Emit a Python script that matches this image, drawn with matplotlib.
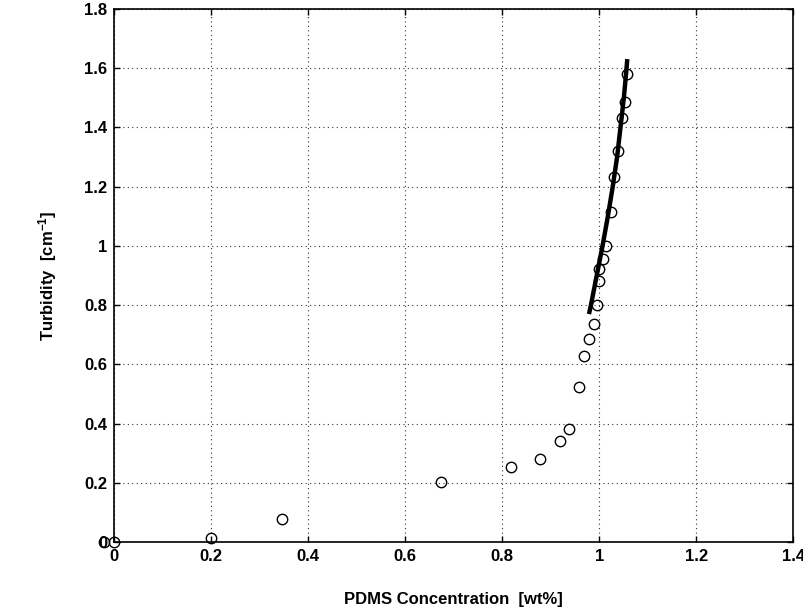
import matplotlib.pyplot as plt
from matplotlib.ticker import FuncFormatter

plt.rcParams['font.family'] = ['Liberation Sans', 'DejaVu Sans']
plt.rcParams['font.weight'] = 'bold'
plt.rcParams['mathtext.fontset'] = 'custom'
plt.rcParams['mathtext.rm'] = 'Liberation Sans:bold'
plt.rcParams['mathtext.bf'] = 'Liberation Sans:bold'
plt.rcParams['mathtext.default'] = 'bf'

# measured turbidity points
conc = [-0.02, 0.0, 0.20, 0.347, 0.673, 0.818, 0.879, 0.919, 0.938, 0.959,
        0.968, 0.979, 0.989, 0.996, 0.999, 1.000, 1.007, 1.015, 1.024,
        1.030, 1.0386, 1.047, 1.054, 1.0565]
turb = [0.0, 0.0, 0.015, 0.078, 0.205, 0.253, 0.280, 0.342, 0.382, 0.523,
        0.630, 0.686, 0.737, 0.799, 0.883, 0.923, 0.957, 1.000, 1.116,
        1.234, 1.3215, 1.433, 1.485, 1.579]

# fitted curve
fit_x = [0.979, 0.983, 0.995, 1.007, 1.018, 1.028, 1.037, 1.044, 1.051, 1.0565, 1.058]
fit_y = [0.77, 0.80, 0.90, 1.00, 1.10, 1.20, 1.30, 1.40, 1.50, 1.60, 1.63]

xticks = [0, 0.2, 0.4, 0.6, 0.8, 1.0, 1.2, 1.4]
yticks = [0, 0.2, 0.4, 0.6, 0.8, 1.0, 1.2, 1.4, 1.6, 1.8]

fig = plt.figure(figsize=(8.04, 6.13), dpi=100)
ax = fig.add_axes([0.142, 0.1152, 0.8445, 0.8706])

ax.plot(conc, turb, 'o', mfc='none', mec='black', ms=7.5, mew=1.0, clip_on=False, zorder=3)
ax.plot(fit_x, fit_y, '-', color='black', lw=3.2, solid_capstyle='butt', zorder=4)

ax.set_xlim(0, 1.4)
ax.set_ylim(0, 1.8)
ax.set_xticks(xticks)
ax.set_yticks(yticks)
fmt = FuncFormatter(lambda v, p: '%g' % round(v, 2))
ax.xaxis.set_major_formatter(fmt)
ax.yaxis.set_major_formatter(fmt)
ax.tick_params(direction='in', length=4, width=1, labelsize=12, top=True, right=True, pad=5)
for lab in ax.get_xticklabels() + ax.get_yticklabels():
    lab.set_fontweight('bold')

ax.grid(True, linestyle=(0, (1, 3)), color='#333333', linewidth=0.8)
for s in ax.spines.values():
    s.set_linewidth(1.2)

ax.set_xlabel('PDMS Concentration  [wt%]', fontsize=12, fontweight='bold', labelpad=20)
ax.set_ylabel(r'Turbidity  [cm$^{-1}$]', fontsize=12, fontweight='bold', labelpad=18)

fig.savefig('out.png', dpi=100)
